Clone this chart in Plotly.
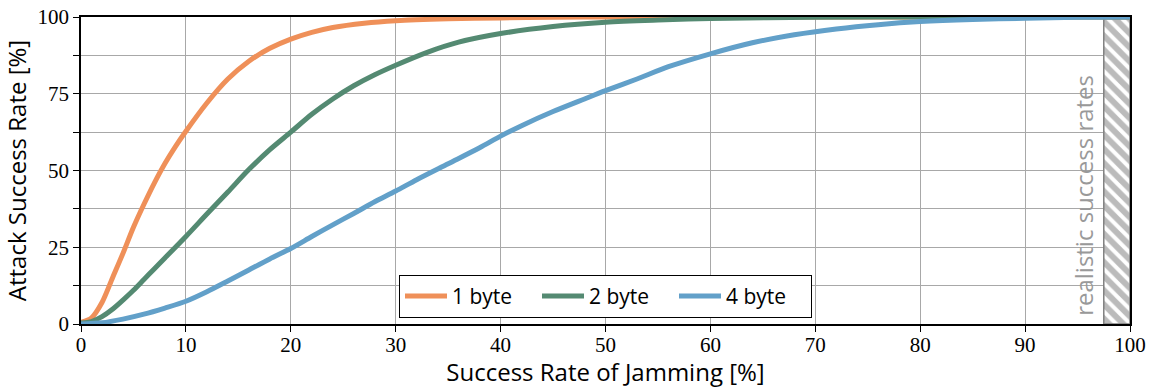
import plotly.graph_objects as go

# Success rate of jamming [%] vs. attack success rate [%]
x_1byte = [0, 1, 2, 3, 4, 5, 6, 7, 8, 9, 10, 12, 14, 16, 18, 20, 22, 24, 27, 30, 35, 40, 45, 50, 60, 80, 100]
y_1byte = [0.5, 2, 7, 15, 23, 31.5, 39, 46, 52.3, 57.8, 62.8, 72, 79.8, 85.6, 89.8, 92.8, 95, 96.6, 98, 98.8, 99.4, 99.7, 99.9, 100, 100, 100, 100]

x_2byte = [0, 1, 2, 3, 4, 5, 6, 7, 8, 10, 12, 14, 16, 18, 20, 22, 24, 26, 28, 30, 33, 36, 40, 45, 50, 55, 60, 70, 80, 100]
y_2byte = [0.3, 0.8, 2.4, 4.8, 7.8, 11, 14.5, 18, 21.5, 28.5, 35.8, 43, 50.3, 56.8, 62.5, 68.3, 73.3, 77.6, 81.2, 84.3, 88.5, 91.8, 94.6, 96.9, 98.3, 99, 99.5, 99.9, 100, 100]

x_4byte = [0, 2, 4, 6, 8, 10, 12, 14, 16, 18, 20, 22, 24, 26, 28, 30, 32, 35, 38, 40, 42, 45, 48, 50, 53, 56, 60, 64, 68, 72, 76, 80, 85, 90, 95, 100]
y_4byte = [0, 0.4, 1.6, 3.2, 5.2, 7.4, 10.5, 14, 17.6, 21.2, 24.6, 28.5, 32.3, 36, 39.8, 43.3, 47, 52.2, 57.4, 61.2, 64.6, 69.2, 73.3, 76, 79.8, 83.8, 88, 91.6, 94.2, 96.1, 97.5, 98.5, 99.2, 99.6, 99.9, 100]

series_names = ["1 byte", "2 byte", "4 byte"]
series_colors = ["#EF9059", "#548A72", "#62A0C9"]

# realistic jamming success band
band_x = [97.5, 100]

x_ticks = [0, 10, 20, 30, 40, 50, 60, 70, 80, 90, 100]
y_ticks = [0, 25, 50, 75, 100]

SANS = "Open Sans, Noto Sans, sans-serif"
SERIF = "Liberation Serif, DejaVu Serif, serif"

fig = go.Figure()

fig.add_trace(go.Scatter(
    x=[band_x[0], band_x[1], band_x[1], band_x[0], band_x[0]],
    y=[0, 0, 100, 100, 0],
    mode="lines",
    fill="toself",
    fillcolor="white",
    fillpattern=dict(shape="\\", fgcolor="#777777", bgcolor="white", size=10, solidity=0.6),
    line=dict(color="#808080", width=1.5),
    showlegend=False,
    hoverinfo="skip",
))

for xs, ys, name, color in zip(
    [x_1byte, x_2byte, x_4byte],
    [y_1byte, y_2byte, y_4byte],
    series_names, series_colors,
):
    fig.add_trace(go.Scatter(
        x=xs, y=ys, name=name, mode="lines",
        line=dict(color=color, width=5, shape="spline", smoothing=0.8),
        cliponaxis=False,
    ))

fig.add_annotation(
    x=95.5, y=42, xref="x", yref="y",
    text="realistic success rates", textangle=-90,
    showarrow=False, xanchor="center", yanchor="middle",
    font=dict(family=SANS, size=24, color="#999999"),
)

fig.update_layout(
    width=1155, height=388,
    margin=dict(l=81, r=25, t=17, b=64, autoexpand=False),
    paper_bgcolor="white", plot_bgcolor="white",
    legend=dict(
        orientation="h", x=0.5, xanchor="center", y=0.02, yanchor="bottom",
        bordercolor="black", borderwidth=1, bgcolor="white",
        font=dict(family=SANS, size=21, color="black"),
        itemwidth=42, entrywidth=80, tracegroupgap=0,
    ),
    font=dict(family=SERIF, color="black"),
)

fig.update_xaxes(
    range=[0, 100], tickvals=x_ticks, automargin=False,
    showline=True, linecolor="black", linewidth=1.5, mirror=True,
    ticks="outside", ticklen=6, tickcolor="black",
    ticklabelstandoff=-5,
    showgrid=True, gridcolor="#A8A8A8", gridwidth=1,
    zeroline=False,
    tickfont=dict(family=SERIF, size=21, color="black"),
    title=dict(text="Success Rate of Jamming [%]", font=dict(family=SANS, size=24, color="black"), standoff=0),
)
fig.update_yaxes(
    range=[0, 100], tickvals=y_ticks, automargin=False,
    showline=True, linecolor="black", linewidth=1.5, mirror=True,
    ticks="outside", ticklen=6, tickcolor="black",
    showgrid=True, gridcolor="#A8A8A8", gridwidth=1,
    zeroline=False,
    minor=dict(dtick=12.5, tick0=0, ticks="outside", ticklen=6, tickcolor="black",
               showgrid=True, gridcolor="#A8A8A8", gridwidth=1),
    tickfont=dict(family=SERIF, size=21, color="black"),
    title=dict(text="Attack Success Rate [%]", font=dict(family=SANS, size=24, color="black"), standoff=4),
)

fig.write_html("out.html")
